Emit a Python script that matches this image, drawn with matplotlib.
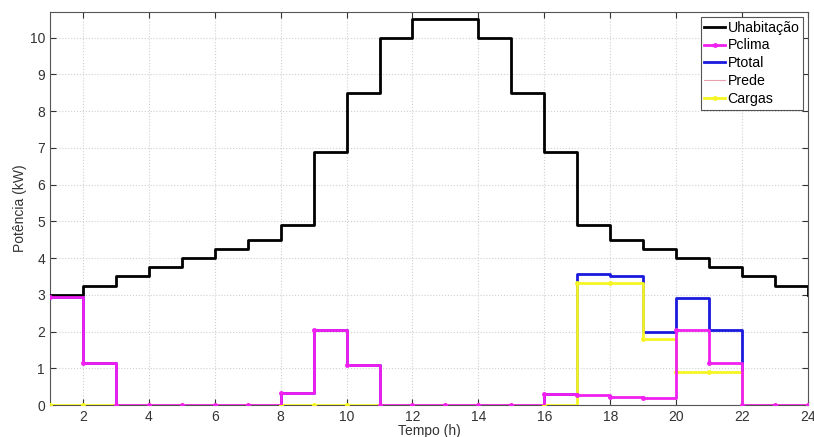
import matplotlib
matplotlib.use("Agg")
import matplotlib.pyplot as plt
import numpy as np

hours = list(range(1, 25))
u_habitacao = [3.0, 3.25, 3.5, 3.75, 4.0, 4.25, 4.5, 4.9, 6.9, 8.5, 10.0, 10.5,
               10.5, 10.0, 8.5, 6.9, 4.9, 4.5, 4.25, 4.0, 3.75, 3.5, 3.25, 3.0]
p_clima = [2.95, 1.15, 0.0, 0.0, 0.0, 0.0, 0.0, 0.33, 2.05, 1.1, 0.0, 0.0,
           0.0, 0.0, 0.0, 0.3, 0.28, 0.22, 0.2, 2.05, 1.15, 0.0, 0.0, 0.0]
cargas = [0.0, 0.0, 0.0, 0.0, 0.0, 0.0, 0.0, 0.0, 0.0, 0.0, 0.0, 0.0,
          0.0, 0.0, 0.0, 0.0, 3.33, 3.33, 1.8, 0.9, 0.9, 0.0, 0.0, 0.0]
p_total = [2.95, 1.15, 0.0, 0.0, 0.0, 0.0, 0.0, 0.33, 2.05, 1.1, 0.0, 0.0,
           0.0, 0.0, 0.0, 0.3, 3.58, 3.5, 2.0, 2.92, 2.05, 0.0, 0.0, 0.0]
p_rede = p_total
labels = ["Uhabitação", "Pclima", "Ptotal", "Prede", "Cargas"]

plt.rcParams['font.family'] = ['Liberation Sans', 'DejaVu Sans']
fig = plt.figure(figsize=(8.14, 4.37), dpi=100)
ax = fig.add_axes([0.0614, 0.0732, 0.9312, 0.8993])

l1, = ax.step(hours, u_habitacao, where='post', color='black', lw=2, zorder=5)
l4, = ax.step(hours, p_rede, where='post', color='#e8a0b0', lw=0.8, zorder=2)
l3, = ax.step(hours, p_total, where='post', color='#1a1adf', lw=2, zorder=3)
l5, = ax.step(hours, cargas, where='post', color='#f5f524', lw=2, zorder=4,
              marker='.', markersize=5)
l2, = ax.step(hours, p_clima, where='post', color='#f020f0', lw=2, zorder=6,
              marker='.', markersize=5)

ax.set_xlim(1, 24)
ax.set_ylim(0, 10.7)
ax.set_xticks(range(2, 25, 2))
ax.set_yticks(range(0, 11))
ax.grid(True, linestyle=':', color='#d0d0d0', lw=0.8)
ax.tick_params(direction='in', top=True, right=True, labelsize=10, length=4,
               colors='#333333')
for s in ax.spines.values():
    s.set_color('#555555')
ax.set_xlabel("Tempo (h)", fontsize=10, labelpad=0, color='#333333')
ax.set_ylabel("Potência (kW)", fontsize=10, labelpad=2, color='#333333')

leg = ax.legend([l1, l2, l3, l4, l5], labels, loc='upper right', fontsize=10.2,
                handlelength=1.5, handletextpad=0.15, borderpad=0.25,
                labelspacing=0.28, fancybox=False, framealpha=1,
                edgecolor='#555555', borderaxespad=0.35)
leg.get_frame().set_linewidth(0.8)

fig.savefig("out.png", dpi=100)
